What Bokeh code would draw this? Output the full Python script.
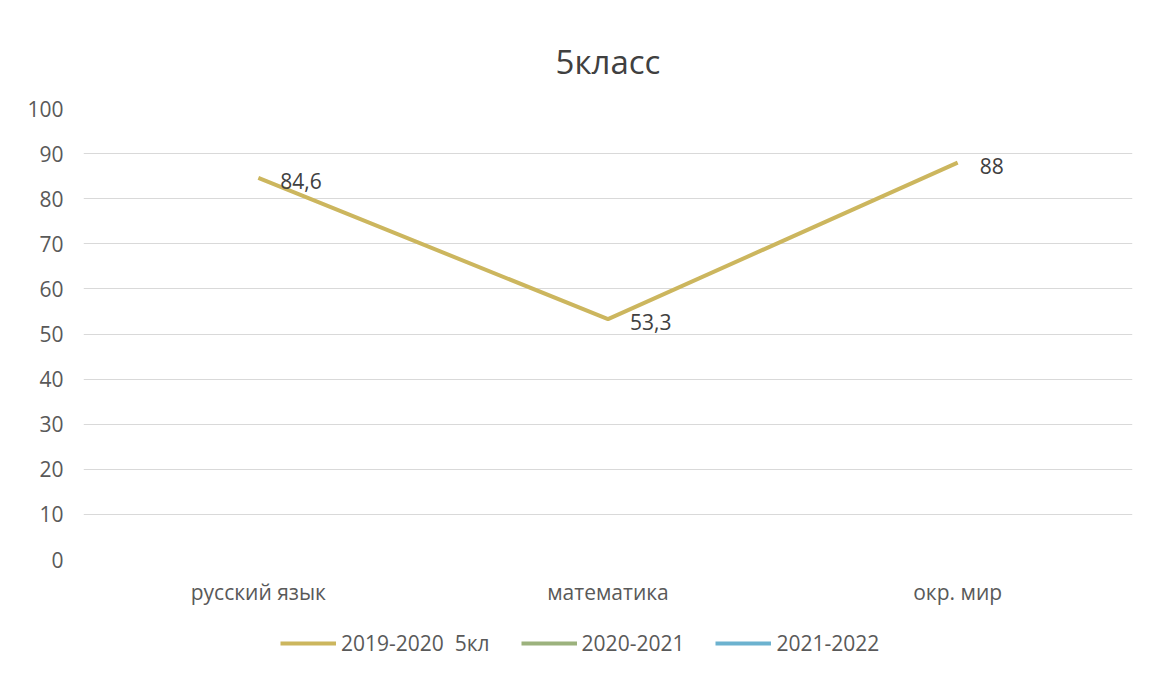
from bokeh.plotting import figure
from bokeh.layouts import column
from bokeh.models import ColumnDataSource, Legend, LegendItem, FixedTicker, Range1d
from bokeh.core.properties import value
from bokeh.embed import file_html
from bokeh.resources import INLINE

title_text = "5класс"
categories = ["русский язык", "математика", "окр. мир"]
series_names = ["2019-2020  5кл", "2020-2021", "2021-2022"]
series_colors = ["#CCB65E", "#9CB27D", "#6CB2CF"]
values_2019 = [84.6, 53.3, 88]
values_2020 = [float("nan"), float("nan"), float("nan")]  # no data shown
values_2021 = [float("nan"), float("nan"), float("nan")]  # no data shown
y_ticks = [0, 10, 20, 30, 40, 50, 60, 70, 80, 90, 100]

FONT = "Open Sans"


def fmt(v):
    s = ("%g" % v)
    return s.replace(".", ",")


p = figure(x_range=categories, y_range=(0, 100),
           width=1141, height=615,
           output_backend="svg", toolbar_location=None,
           min_border_left=83, min_border_right=9, min_border_top=108,
           min_border_bottom=56)
p.x_range.range_padding = 0

p.title.text = title_text
p.title.align = "center"
p.title.text_font = FONT
p.title.text_font_size = "33px"
p.title.text_font_style = "normal"
p.title.text_color = "#404040"
p.title.standoff = 50

p.outline_line_color = None
p.xgrid.grid_line_color = None
p.ygrid.grid_line_color = "#D9D9D9"
p.ygrid.grid_line_width = 1

p.yaxis.ticker = FixedTicker(ticks=y_ticks)
for ax in (p.xaxis, p.yaxis):
    ax.axis_line_color = None
    ax.major_tick_line_color = None
    ax.minor_tick_line_color = None
    ax.major_label_text_font = FONT
    ax.major_label_text_font_size = "21px"
    ax.major_label_text_color = "#595959"
p.yaxis.major_label_standoff = 14
p.xaxis.major_label_standoff = 12

src = ColumnDataSource(dict(x=categories, y=values_2019,
                            lab=[fmt(v) for v in values_2019]))
src2 = ColumnDataSource(dict(x=categories, y=values_2020))
src3 = ColumnDataSource(dict(x=categories, y=values_2021))
p.line("x", "y", source=src, line_color=series_colors[0], line_width=4)
p.line("x", "y", source=src2, line_color=series_colors[1], line_width=4)
p.line("x", "y", source=src3, line_color=series_colors[2], line_width=4)

p.text("x", "y", text="lab", source=src, x_offset=22, y_offset=3,
       text_align="left", text_baseline="middle",
       text_font=value(FONT), text_font_size="21px", text_color="#404040")

# legend strip below the chart (same series, out-of-view range)
p2 = figure(x_range=p.x_range, y_range=Range1d(1000, 1001),
            width=1141, height=53, output_backend="svg", toolbar_location=None,
            x_axis_type=None, y_axis_type=None,
            min_border_left=0, min_border_right=0, min_border_top=0,
            min_border_bottom=0)
p2.outline_line_color = None
l1 = p2.line("x", "y", source=src, line_color=series_colors[0], line_width=4)
l2 = p2.line("x", "y", source=src2, line_color=series_colors[1], line_width=4)
l3 = p2.line("x", "y", source=src3, line_color=series_colors[2], line_width=4)

legend = Legend(items=[LegendItem(label=series_names[0], renderers=[l1]),
                       LegendItem(label=series_names[1], renderers=[l2]),
                       LegendItem(label=series_names[2], renderers=[l3])],
                orientation="horizontal", location=(197, 11),
                glyph_width=56, glyph_height=20, label_standoff=5, spacing=31,
                label_text_font=FONT, label_text_font_size="21px",
                label_text_color="#595959", border_line_color=None,
                background_fill_alpha=0, margin=0, padding=5)
p2.add_layout(legend)

open("out.html", "w").write(file_html(column(p, p2), INLINE))
